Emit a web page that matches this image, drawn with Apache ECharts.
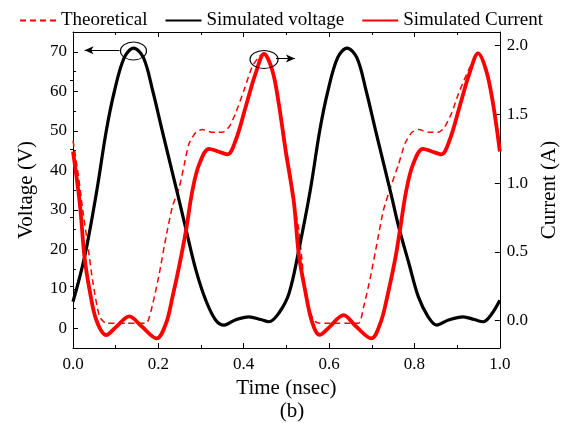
<!DOCTYPE html>
<html><head><meta charset="utf-8">
<script src="https://cdn.jsdelivr.net/npm/echarts@6/dist/echarts.min.js"></script>
<style>html,body{margin:0;padding:0;background:#fff}#c{width:568px;height:423px}</style>
</head><body><div id="c"></div>
<script>
// ---- data ----
const voltTime = [0, 0.027, 0.056, 0.078, 0.097, 0.120, 0.142, 0.165, 0.187, 0.209, 0.245, 0.265, 0.288, 0.311, 0.334, 0.354, 0.380, 0.412, 0.440, 0.459, 0.482, 0.506,
  0.529, 0.556, 0.578, 0.597, 0.620, 0.642, 0.665, 0.687, 0.709, 0.745, 0.763, 0.787, 0.809, 0.832, 0.852, 0.880, 0.914, 0.940, 0.961, 0.980, 1.0];
const voltValues = [6.7, 18, 35, 50, 60, 68.5, 70.9, 68.5, 60, 50, 34, 24.9, 14.7, 7.1, 2.1, 0.8, 2.1, 2.9, 2.2, 1.65, 3.8, 8.8,
  19.8, 35, 50, 60, 68.5, 70.9, 68.5, 60, 50, 34, 25.7, 16.4, 8, 2.9, 0.8, 2.1, 2.9, 2.2, 1.65, 3.5, 7.1];

const currTime = [0, 0.016, 0.027, 0.039, 0.055, 0.078, 0.100, 0.132, 0.160, 0.196, 0.218, 0.233, 0.249, 0.265, 0.280, 0.296, 0.319, 0.340, 0.362, 0.381, 0.405, 0.428, 0.4475, 0.467, 0.482, 0.498,
  0.5175, 0.529, 0.545, 0.560, 0.578, 0.600, 0.634, 0.662, 0.699, 0.720, 0.736, 0.755, 0.766, 0.781, 0.797, 0.820, 0.841, 0.863, 0.882, 0.906, 0.929, 0.949, 0.968, 0.984, 1.0];
const currValues = [1.23, 0.85, 0.46, 0.22, 0.0, -0.106, -0.05, 0.03, -0.04, -0.13, -0.02, 0.17, 0.40, 0.66, 0.95, 1.14, 1.25, 1.23, 1.21, 1.31, 1.56, 1.80, 1.94, 1.82, 1.58, 1.24,
  0.86, 0.48, 0.2, -0.01, -0.105, -0.05, 0.04, -0.04, -0.13, -0.02, 0.17, 0.45, 0.66, 0.95, 1.14, 1.25, 1.23, 1.21, 1.31, 1.56, 1.80, 1.945, 1.82, 1.58, 1.23];

const theoTime = [0, 0.012, 0.023, 0.035, 0.047, 0.062, 0.078, 0.125, 0.171, 0.187, 0.202, 0.218, 0.233, 0.249, 0.261, 0.272, 0.288, 0.303, 0.327, 0.350, 0.366, 0.381, 0.401, 0.420, 0.436, 0.4475, 0.467, 0.482, 0.498,
  0.510, 0.520, 0.529, 0.537, 0.545, 0.564, 0.578, 0.624, 0.669, 0.681, 0.697, 0.712, 0.727, 0.745, 0.763, 0.778, 0.794, 0.810, 0.832, 0.856, 0.871, 0.887, 0.903, 0.926, 0.941, 0.949, 0.968, 0.984, 1.0];
const theoValues = [1.31, 1.07, 0.80, 0.54, 0.27, 0.03, -0.02, -0.02, -0.02, 0.125, 0.34, 0.61, 0.83, 0.97, 1.14, 1.29, 1.37, 1.39, 1.37, 1.37, 1.41, 1.51, 1.68, 1.85, 1.92, 1.945, 1.83, 1.60, 1.28,
  1.05, 0.82, 0.66, 0.42, 0.17, 0.0, -0.02, -0.02, -0.02, 0.10, 0.32, 0.56, 0.80, 0.98, 1.14, 1.29, 1.37, 1.39, 1.37, 1.37, 1.41, 1.51, 1.65, 1.82, 1.91, 1.945, 1.83, 1.60, 1.28];

const xTicks = [0, 0.2, 0.4, 0.6, 0.8, 1.0];
const voltTicks = [0, 10, 20, 30, 40, 50, 60, 70];
const voltMinor = [5, 15, 25, 35, 45, 55, 65];
const currTicks = [0, 0.5, 1.0, 1.5, 2.0];
const currMinor = [0.25, 0.75, 1.25, 1.75];

// annotations: [t, value] of ellipse centres and arrow ends
const voltPeakMark = [0.1417, 70.2];
const voltArrow = [[0.109, 70.4], [0.027, 70.4]];
const currPeakMark = [0.4475, 1.90];
const currArrow = [[0.4755, 1.908], [0.52, 1.908]];

const zip = (a, b) => a.map((v, i) => [v, b[i]]);
const FONT = "'Liberation Serif', 'Times New Roman', serif";
const black = '#000';

function yAxisBase(extra) {
  return Object.assign({
    type: 'value',
    splitLine: { show: false },
    axisLine: { show: true, onZero: false, lineStyle: { color: black, width: 1 } },
    axisTick: { show: true, inside: true, length: 5, lineStyle: { color: black } },
    axisLabel: { show: true, color: black, fontFamily: FONT, fontSize: 17 }
  }, extra);
}

const option = {
  animation: false,
  backgroundColor: '#fff',
  title: {
    text: '(b)', left: 287, top: 396, textAlign: 'center',
    textStyle: { fontFamily: FONT, fontSize: 21, fontWeight: 'normal', color: black }
  },
  legend: {
    top: 6, left: 14, itemWidth: 36, itemHeight: 12, itemGap: 17,
    itemStyle: { opacity: 0 },
    textStyle: { fontFamily: FONT, fontSize: 19, color: black },
    data: ['Theoretical', 'Simulated voltage', 'Simulated Current']
  },
  grid: { left: 73, right: 66, top: 32, bottom: 75, containLabel: false },
  xAxis: [
    {
      type: 'value', min: 0, max: 1, interval: 0.2, position: 'bottom',
      name: 'Time (nsec)', nameLocation: 'middle', nameGap: 29,
      nameTextStyle: { fontFamily: FONT, fontSize: 21, color: black },
      splitLine: { show: false },
      axisLine: { onZero: false, lineStyle: { color: black, width: 1 } },
      axisTick: { inside: true, length: 5, lineStyle: { color: black } },
      minorTick: { show: true, splitNumber: 2, length: 3, lineStyle: { color: black } },
      axisLabel: { color: black, fontFamily: FONT, fontSize: 17, margin: 8, formatter: v => v.toFixed(1) }
    },
    {
      type: 'value', min: 0, max: 1, interval: 0.2, position: 'top',
      splitLine: { show: false },
      axisLine: { onZero: false, lineStyle: { color: black, width: 1 } },
      axisTick: { inside: true, length: 5, lineStyle: { color: black } },
      minorTick: { show: true, splitNumber: 2, length: 3, lineStyle: { color: black } },
      axisLabel: { show: false }
    }
  ],
  yAxis: [
    yAxisBase({
      min: -5, max: 75, position: 'left',
      name: 'Voltage (V)', nameLocation: 'middle', nameGap: 36,
      nameTextStyle: { fontFamily: FONT, fontSize: 21, color: black },
      axisLabel: { show: true, color: black, fontFamily: FONT, fontSize: 17, margin: 6, customValues: voltTicks },
      axisTick: { show: true, inside: true, length: 5, customValues: voltTicks, lineStyle: { color: black } }
    }),
    yAxisBase({
      min: -5, max: 75, position: 'left',
      axisLine: { show: false },
      axisLabel: { show: false },
      axisTick: { show: true, inside: true, length: 3, customValues: voltMinor, lineStyle: { color: black } }
    }),
    yAxisBase({
      min: -0.2, max: 2.1, position: 'right',
      name: 'Current (A)', nameLocation: 'middle', nameGap: 31, nameRotate: 90,
      nameTextStyle: { fontFamily: FONT, fontSize: 21, color: black },
      axisLabel: { show: true, color: black, fontFamily: FONT, fontSize: 17, margin: 7, customValues: currTicks, formatter: v => v.toFixed(1) },
      axisTick: { show: true, inside: true, length: 5, customValues: currTicks, lineStyle: { color: black } }
    }),
    yAxisBase({
      min: -0.2, max: 2.1, position: 'right',
      axisLine: { show: false },
      axisLabel: { show: false },
      axisTick: { show: true, inside: true, length: 3, customValues: currMinor, lineStyle: { color: black } }
    })
  ],
  series: [
    {
      name: 'Theoretical', type: 'line', yAxisIndex: 2, symbol: 'none', smooth: 0.2,
      data: zip(theoTime, theoValues), color: '#ff0000',
      lineStyle: { color: '#ff0000', width: 1.5, type: [6, 4] }, z: 2
    },
    {
      name: 'Simulated voltage', type: 'line', yAxisIndex: 0, symbol: 'none', smooth: 0.35,
      data: zip(voltTime, voltValues), color: black,
      lineStyle: { color: black, width: 3.2 }, z: 3,
      markPoint: {
        silent: true, symbol: 'circle', symbolSize: [26, 18],
        itemStyle: { color: 'rgba(0,0,0,0)', borderColor: black, borderWidth: 1 },
        label: { show: false },
        data: [{ coord: voltPeakMark }]
      },
      markLine: {
        silent: true, symbol: ['none', 'arrow'], symbolSize: [6, 9],
        lineStyle: { color: black, width: 1, type: 'solid' },
        label: { show: false },
        data: [[{ coord: voltArrow[0] }, { coord: voltArrow[1] }]]
      }
    },
    {
      name: 'Simulated Current', type: 'line', yAxisIndex: 2, symbol: 'none', smooth: 0.35,
      data: zip(currTime, currValues), color: '#ff0000',
      lineStyle: { color: '#ff0000', width: 3.8 }, z: 4,
      markPoint: {
        silent: true, symbol: 'circle', symbolSize: [28, 18],
        itemStyle: { color: 'rgba(0,0,0,0)', borderColor: black, borderWidth: 1 },
        label: { show: false },
        data: [{ coord: currPeakMark }]
      },
      markLine: {
        silent: true, symbol: ['none', 'arrow'], symbolSize: [6, 9],
        lineStyle: { color: black, width: 1, type: 'solid' },
        label: { show: false },
        data: [[{ coord: currArrow[0] }, { coord: currArrow[1] }]]
      }
    }
  ]
};
const chart = echarts.init(document.getElementById('c'), null, { renderer: 'canvas' });
chart.setOption(option);
</script>
</body></html>
